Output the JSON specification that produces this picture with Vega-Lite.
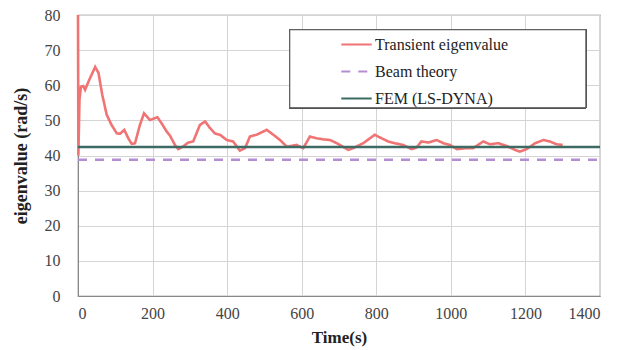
{
  "$schema": "https://vega.github.io/schema/vega-lite/v6.json",
  "autosize": "none",
  "width": 522,
  "height": 281,
  "padding": {"left": 78, "top": 15, "right": 31, "bottom": 54},
  "background": "white",
  "config": {
    "font": "Liberation Serif, serif",
    "view": {"stroke": "#777", "strokeWidth": 1.2},
    "axis": {
      "labelFont": "Liberation Serif, serif",
      "titleFont": "Liberation Serif, serif",
      "labelColor": "#444",
      "titleColor": "#222",
      "gridColor": "#d4d4d4",
      "gridWidth": 1,
      "domainColor": "#888",
      "ticks": false
    }
  },
  "data": {
    "values": [
      {"series": "Transient eigenvalue", "t": 0, "v": 80},
      {"series": "Transient eigenvalue", "t": 1, "v": 40},
      {"series": "Transient eigenvalue", "t": 4, "v": 56},
      {"series": "Transient eigenvalue", "t": 8, "v": 59.6},
      {"series": "Transient eigenvalue", "t": 14, "v": 59.8},
      {"series": "Transient eigenvalue", "t": 19, "v": 58.7},
      {"series": "Transient eigenvalue", "t": 30, "v": 61.5},
      {"series": "Transient eigenvalue", "t": 46, "v": 65.2},
      {"series": "Transient eigenvalue", "t": 55, "v": 63.5},
      {"series": "Transient eigenvalue", "t": 65, "v": 57.3},
      {"series": "Transient eigenvalue", "t": 77, "v": 51.6},
      {"series": "Transient eigenvalue", "t": 90, "v": 48.7},
      {"series": "Transient eigenvalue", "t": 104, "v": 46.3},
      {"series": "Transient eigenvalue", "t": 113, "v": 46.2},
      {"series": "Transient eigenvalue", "t": 124, "v": 47.3},
      {"series": "Transient eigenvalue", "t": 135, "v": 44.9},
      {"series": "Transient eigenvalue", "t": 144, "v": 43.3},
      {"series": "Transient eigenvalue", "t": 153, "v": 43.5},
      {"series": "Transient eigenvalue", "t": 166, "v": 48.7},
      {"series": "Transient eigenvalue", "t": 177, "v": 52.0},
      {"series": "Transient eigenvalue", "t": 193, "v": 50.1},
      {"series": "Transient eigenvalue", "t": 213, "v": 50.9},
      {"series": "Transient eigenvalue", "t": 224, "v": 49.2},
      {"series": "Transient eigenvalue", "t": 238, "v": 46.8},
      {"series": "Transient eigenvalue", "t": 247, "v": 45.6},
      {"series": "Transient eigenvalue", "t": 260, "v": 43.0},
      {"series": "Transient eigenvalue", "t": 269, "v": 41.8},
      {"series": "Transient eigenvalue", "t": 282, "v": 42.6},
      {"series": "Transient eigenvalue", "t": 296, "v": 43.7},
      {"series": "Transient eigenvalue", "t": 309, "v": 44.0},
      {"series": "Transient eigenvalue", "t": 327, "v": 48.7},
      {"series": "Transient eigenvalue", "t": 341, "v": 49.7},
      {"series": "Transient eigenvalue", "t": 354, "v": 47.8},
      {"series": "Transient eigenvalue", "t": 367, "v": 46.3},
      {"series": "Transient eigenvalue", "t": 381, "v": 45.9},
      {"series": "Transient eigenvalue", "t": 399, "v": 44.4},
      {"series": "Transient eigenvalue", "t": 416, "v": 44.0},
      {"series": "Transient eigenvalue", "t": 434, "v": 41.4},
      {"series": "Transient eigenvalue", "t": 448, "v": 42.1},
      {"series": "Transient eigenvalue", "t": 461, "v": 45.4},
      {"series": "Transient eigenvalue", "t": 479, "v": 45.9},
      {"series": "Transient eigenvalue", "t": 506, "v": 47.3},
      {"series": "Transient eigenvalue", "t": 524, "v": 45.9},
      {"series": "Transient eigenvalue", "t": 542, "v": 44.4},
      {"series": "Transient eigenvalue", "t": 560, "v": 42.5},
      {"series": "Transient eigenvalue", "t": 586, "v": 43.0},
      {"series": "Transient eigenvalue", "t": 604, "v": 42.1},
      {"series": "Transient eigenvalue", "t": 622, "v": 45.4},
      {"series": "Transient eigenvalue", "t": 640, "v": 44.9},
      {"series": "Transient eigenvalue", "t": 658, "v": 44.6},
      {"series": "Transient eigenvalue", "t": 676, "v": 44.4},
      {"series": "Transient eigenvalue", "t": 694, "v": 43.5},
      {"series": "Transient eigenvalue", "t": 725, "v": 41.6},
      {"series": "Transient eigenvalue", "t": 738, "v": 42.1},
      {"series": "Transient eigenvalue", "t": 765, "v": 43.5},
      {"series": "Transient eigenvalue", "t": 796, "v": 45.9},
      {"series": "Transient eigenvalue", "t": 814, "v": 44.9},
      {"series": "Transient eigenvalue", "t": 832, "v": 44.0},
      {"series": "Transient eigenvalue", "t": 850, "v": 43.5},
      {"series": "Transient eigenvalue", "t": 872, "v": 43.0},
      {"series": "Transient eigenvalue", "t": 895, "v": 41.8},
      {"series": "Transient eigenvalue", "t": 908, "v": 42.3},
      {"series": "Transient eigenvalue", "t": 921, "v": 44.0},
      {"series": "Transient eigenvalue", "t": 940, "v": 43.7},
      {"series": "Transient eigenvalue", "t": 962, "v": 44.4},
      {"series": "Transient eigenvalue", "t": 980, "v": 43.5},
      {"series": "Transient eigenvalue", "t": 998, "v": 43.0},
      {"series": "Transient eigenvalue", "t": 1016, "v": 41.8},
      {"series": "Transient eigenvalue", "t": 1042, "v": 42.1},
      {"series": "Transient eigenvalue", "t": 1060, "v": 42.1},
      {"series": "Transient eigenvalue", "t": 1087, "v": 44.0},
      {"series": "Transient eigenvalue", "t": 1105, "v": 43.2},
      {"series": "Transient eigenvalue", "t": 1127, "v": 43.5},
      {"series": "Transient eigenvalue", "t": 1150, "v": 42.7},
      {"series": "Transient eigenvalue", "t": 1172, "v": 41.6},
      {"series": "Transient eigenvalue", "t": 1185, "v": 41.1},
      {"series": "Transient eigenvalue", "t": 1203, "v": 41.8},
      {"series": "Transient eigenvalue", "t": 1226, "v": 43.5},
      {"series": "Transient eigenvalue", "t": 1248, "v": 44.4},
      {"series": "Transient eigenvalue", "t": 1266, "v": 44.0},
      {"series": "Transient eigenvalue", "t": 1283, "v": 43.2},
      {"series": "Transient eigenvalue", "t": 1300, "v": 43.0},
      {"series": "Beam theory", "t": 0, "v": 38.8},
      {"series": "Beam theory", "t": 1400, "v": 38.8},
      {"series": "FEM (LS-DYNA)", "t": 0, "v": 42.4},
      {"series": "FEM (LS-DYNA)", "t": 1400, "v": 42.4}
    ]
  },
  "layer": [
    {
      "mark": {"type": "line", "strokeWidth": 2.6, "strokeCap": "butt"},
      "encoding": {
        "x": {
          "field": "t",
          "type": "quantitative",
          "scale": {"domain": [0, 1400], "nice": false},
          "axis": {
            "values": [0, 200, 400, 600, 800, 1000, 1200, 1400],
            "format": "d",
            "title": "Time(s)",
            "labelFontSize": 16,
            "labelPadding": 9,
            "titleFontSize": 17,
            "titleFontWeight": "bold",
            "titlePadding": 8
          }
        },
        "y": {
          "field": "v",
          "type": "quantitative",
          "scale": {"domain": [0, 80], "nice": false},
          "axis": {
            "values": [0, 10, 20, 30, 40, 50, 60, 70, 80],
            "format": "d",
            "title": "eigenvalue (rad/s)",
            "labelFontSize": 16,
            "labelPadding": 18,
            "titleFontSize": 18,
            "titleFontWeight": "bold",
            "titlePadding": 14
          }
        },
        "color": {
          "field": "series",
          "type": "nominal",
          "scale": {
            "domain": ["Transient eigenvalue", "Beam theory", "FEM (LS-DYNA)"],
            "range": ["#f07474", "#b48ed2", "#3e6a64"]
          },
          "legend": {
            "title": null,
            "orient": "none",
            "legendX": 212,
            "legendY": 15,
            "padding": 5,
            "rowPadding": 9,
            "symbolType": "M-1.9,0H1.9",
            "symbolSize": 256,
            "symbolStrokeWidth": 2.2,
            "symbolOffset": 52,
            "labelOffset": 9,
            "labelFont": "Liberation Serif, serif",
            "labelFontSize": 16,
            "labelColor": "#222",
            "labelLimit": 400,
            "zindex": 2
          }
        },
        "strokeDash": {
          "field": "series",
          "type": "nominal",
          "scale": {
            "domain": ["Transient eigenvalue", "Beam theory", "FEM (LS-DYNA)"],
            "range": [[1, 0], [9, 8], [1, 0]]
          },
          "legend": null
        }
      }
    },
    {
      "description": "frame around the legend entries",
      "mark": {"type": "rect", "fill": "white", "stroke": "#555", "strokeWidth": 1},
      "encoding": {
        "x": {
          "datum": 568,
          "axis": {
            "values": [0, 200, 400, 600, 800, 1000, 1200, 1400],
            "format": "d",
            "title": "Time(s)",
            "labelFontSize": 16,
            "labelPadding": 9,
            "titleFontSize": 17,
            "titleFontWeight": "bold",
            "titlePadding": 8
          }
        },
        "x2": {"datum": 1362},
        "y": {
          "datum": 75.8,
          "axis": {
            "values": [0, 10, 20, 30, 40, 50, 60, 70, 80],
            "format": "d",
            "title": "eigenvalue (rad/s)",
            "labelFontSize": 16,
            "labelPadding": 18,
            "titleFontSize": 18,
            "titleFontWeight": "bold",
            "titlePadding": 14
          }
        },
        "y2": {"datum": 53.6}
      }
    }
  ]
}
